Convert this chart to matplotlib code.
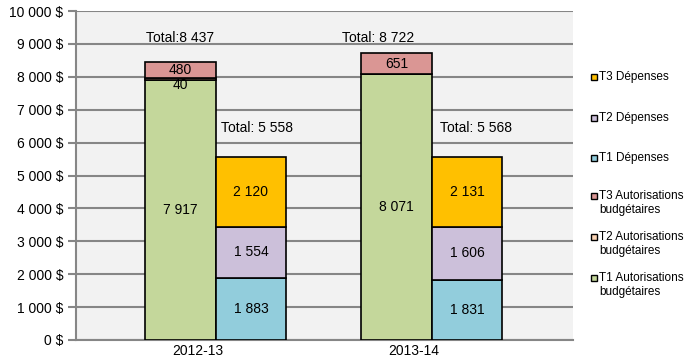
import matplotlib.pyplot as plt
from matplotlib.patches import Rectangle

plt.rcParams['font.family'] = ['Liberation Sans', 'DejaVu Sans']

# data
years = ['2012-13', '2013-14']
t1_auth = [7917, 8071]
t2_auth = [40, 0]
t3_auth = [480, 651]
t1_dep = [1883, 1831]
t2_dep = [1554, 1606]
t3_dep = [2120, 2131]
total_auth = ['8 437', '8 722']
total_dep = ['5 558', '5 568']
total_prefix = ['Total:', 'Total: ']
legend_labels = ['T3 Dépenses', 'T2 Dépenses', 'T1 Dépenses',
                 'T3 Autorisations\nbudgétaires', 'T2 Autorisations\nbudgétaires',
                 'T1 Autorisations\nbudgétaires']

c_t1_auth = '#C4D79B'
c_t2_auth = '#FCD5B5'
c_t3_auth = '#DA9694'
c_t1_dep = '#92CDDC'
c_t2_dep = '#CCC0DA'
c_t3_dep = '#FFC000'


def fmt(v):
  return '{:,}'.format(v).replace(',', ' ')


fig = plt.figure(figsize=(6.85, 3.6), dpi=100)
ax = fig.add_axes([76 / 685, 20 / 360, 497 / 685, 329 / 360])
ax.set_facecolor('#F2F2F2')

width = 0.326
pos = [0, 1]
x_auth = [p - 0.081 for p in pos]
x_dep = [p + 0.245 for p in pos]

# autorisations
stacks_auth = [(t1_auth, c_t1_auth), (t2_auth, c_t2_auth), (t3_auth, c_t3_auth)]
bottom = [0, 0]
for vals, col in stacks_auth:
  ax.bar(x_auth, vals, width, bottom=bottom, color=col, edgecolor='black', linewidth=1.2, zorder=3)
  for i in range(2):
    if vals[i] > 0:
      ymid = bottom[i] + vals[i] / 2
      if vals[i] < 100:
        ymid -= 190  # small slice, label sits lower like the original
      ax.text(x_auth[i], ymid, fmt(vals[i]), ha='center', va='center', fontsize=10, zorder=4)
  bottom = [bottom[i] + vals[i] for i in range(2)]

# depenses
stacks_dep = [(t1_dep, c_t1_dep), (t2_dep, c_t2_dep), (t3_dep, c_t3_dep)]
bottom = [0, 0]
for vals, col in stacks_dep:
  ax.bar(x_dep, vals, width, bottom=bottom, color=col, edgecolor='black', linewidth=1.2, zorder=3)
  for i in range(2):
    ax.text(x_dep[i], bottom[i] + vals[i] / 2, fmt(vals[i]), ha='center', va='center', fontsize=10, zorder=4)
  bottom = [bottom[i] + vals[i] for i in range(2)]

# totals
auth_tx = [-0.085, 0.833]
dep_tx = [0.273, 1.287]
for i in range(2):
  ax.text(auth_tx[i], 9180, total_prefix[i] + total_auth[i], ha='center', va='center', fontsize=10, zorder=4)
  ax.text(dep_tx[i], 6440, 'Total: ' + total_dep[i], ha='center', va='center', fontsize=10, zorder=4)

ax.set_ylim(0, 10000)
ax.set_xlim(-0.565, 1.736)
ax.set_yticks(range(0, 10001, 1000))
ax.set_yticklabels([fmt(v) + ' $' for v in range(0, 10001, 1000)], fontsize=10)
ax.set_xticks([0, 1])
ax.set_xticklabels(years, fontsize=10)
ax.tick_params(axis='x', length=0, pad=3)
ax.tick_params(axis='y', length=6, width=1.5, color='#868686', pad=3)
ax.yaxis.grid(True, color='#868686', linewidth=1.5, zorder=0)
ax.set_axisbelow(True)
for s in ['top', 'right']:
  ax.spines[s].set_visible(False)
ax.spines['left'].set_color('#868686')
ax.spines['left'].set_linewidth(1.5)
ax.spines['bottom'].set_color('#868686')
ax.spines['bottom'].set_linewidth(1.5)

# legend drawn by hand: marker next to the first line of each label
legend_colors = [c_t3_dep, c_t2_dep, c_t1_dep, c_t3_auth, c_t2_auth, c_t1_auth]
legend_y = [77, 118, 158, 196, 237, 278]
for lab, col, yp in zip(legend_labels, legend_colors, legend_y):
  fig.patches.append(Rectangle(((591) / 685, 1 - (yp + 3) / 360), 6 / 685, 6 / 360,
                               facecolor=col, edgecolor='black', linewidth=1.0,
                               transform=fig.transFigure, figure=fig))
  fig.text(599 / 685, 1 - (yp - 6) / 360, lab, ha='left', va='top', fontsize=8.5,
           linespacing=1.25)

fig.savefig('out.png', dpi=100)
